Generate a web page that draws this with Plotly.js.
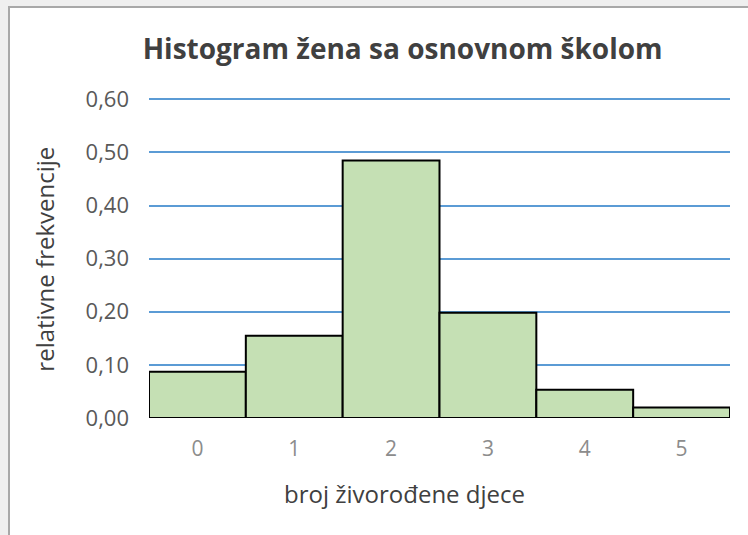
<!DOCTYPE html>
<html>
<head>
<meta charset="utf-8">
<script src="https://cdn.plot.ly/plotly-3.0.1.min.js"></script>
<style>
  html, body { margin: 0; padding: 0; background: #efefef; width: 748px; height: 535px; overflow: hidden; }
  #chart { position: absolute; left: 8px; top: 6px; width: 740px; height: 529px;
           border-left: 2px solid #a8a8a8; border-top: 2px solid #a8a8a8; background: #fff; }
</style>
</head>
<body>
<div id="chart"></div>
<script>
const categories = ["0", "1", "2", "3", "4", "5"];
const relFreq = [0.087, 0.155, 0.485, 0.198, 0.053, 0.020];
const yTickVals = [0, 0.1, 0.2, 0.3, 0.4, 0.5, 0.6];
const yTickText = ["0,00", "0,10", "0,20", "0,30", "0,40", "0,50", "0,60"];
const chartTitle = "Histogram žena sa osnovnom školom";
const xTitle = "broj živorođene djece";
const yTitle = "relativne frekvencije";

const W = 738, H = 527;
const FONT = "Open Sans, Noto Sans, sans-serif";

const trace = {
  type: "bar",
  x: categories,
  y: relFreq,
  marker: { color: "#C5E0B4", line: { color: "#000000", width: 2 } },
  hoverinfo: "skip"
};

const layout = {
  width: W, height: H,
  margin: { l: 139, r: 18, t: 86, b: 117, pad: 0 },
  paper_bgcolor: "#ffffff",
  plot_bgcolor: "#ffffff",
  bargap: 0,
  showlegend: false,
  font: { family: FONT, color: "#595959" },
  title: {
    text: "<b>" + chartTitle + "</b>",
    font: { family: FONT, size: 28, color: "#404040" },
    xref: "container", x: 0.532, xanchor: "center",
    yref: "container", y: 0.922, yanchor: "middle"
  },
  xaxis: {
    type: "category",
    showgrid: false, zeroline: false, showline: false,
    ticks: "", ticklabelstandoff: 16,
    tickfont: { family: FONT, size: 21, color: "#8c8c8c" }
  },
  yaxis: {
    range: [0, 0.61],
    tickvals: yTickVals, ticktext: yTickText,
    showgrid: true, gridcolor: "#5B9BD5", gridwidth: 2,
    zeroline: false, showline: false,
    ticks: "", ticklabelstandoff: 19,
    tickfont: { family: FONT, size: 22, color: "#595959" }
  },
  annotations: [
    {
      text: xTitle, showarrow: false,
      xref: "paper", x: 0.439, xanchor: "center",
      yref: "paper", y: -0.232, yanchor: "middle",
      font: { family: FONT, size: 24, color: "#404040" }
    },
    {
      text: yTitle, showarrow: false, textangle: -90,
      xref: "paper", x: -0.18, xanchor: "center",
      yref: "paper", y: 0.49, yanchor: "middle",
      font: { family: FONT, size: 24, color: "#404040" }
    }
  ]
};

Plotly.newPlot("chart", [trace], layout, { staticPlot: true, displayModeBar: false });
</script>
</body>
</html>
